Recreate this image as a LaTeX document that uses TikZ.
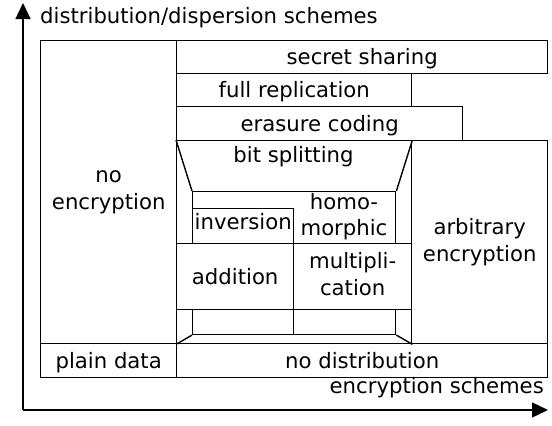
\documentclass[tikz,border=0pt]{standalone}
\usepackage{fontspec}
\setmainfont{DejaVu Sans}
\usepackage{tikz}
\usetikzlibrary{arrows.meta}
\newcommand\cellfont{\fontsize{21.2}{26.8}\selectfont}
\newcommand\linestrut{\rule[-0.236em]{0pt}{1.164em}}
\tikzset{
  cell/.style 2 args={draw, line width=1.4pt, inner sep=0pt, anchor=north west, align=center,
    minimum width=#1pt, minimum height=#2pt, font=\cellfont,
    execute at begin node=\linestrut, execute at end node=\linestrut},
  txt/.style={inner sep=0pt, align=center, font=\cellfont,
    execute at begin node=\linestrut, execute at end node=\linestrut},
  eixo/.style={line width=1.4pt, -{Triangle[length=16pt,width=15pt]}},
  canto/.style={line width=1.4pt},
}

\begin{document}
\begin{tikzpicture}[x=1pt, y=-1pt]
  \useasboundingbox (0,0) rectangle (552,426);
  % axes
  \coordinate (orig) at (23,410);
  \coordinate (ytop) at (23,3);
  \coordinate (xend) at (548,410);
  \draw[eixo] (orig) -- (ytop);
  \draw[eixo] (orig) -- (xend);
  \node[txt, anchor=base west] (ylbl) at (40,23) {distribution/dispersion schemes};
  \node[txt, anchor=base east] (xlbl) at (544,393) {encryption schemes};
  % cells
  \node[cell={136}{303}] (noenc) at (40,40) {no\\encryption};
  \node[cell={371}{33}] (secret) at (176,40) {secret sharing};
  \node[cell={235}{33}] (full) at (176,73) {full replication};
  \node[cell={286}{34}] (erasure) at (176,106) {erasure coding};
  \node[cell={235}{203}] (bits) at (176,140) {};
  \node[txt, anchor=base] (bitslbl) at (293.5,162) {bit splitting};
  \node[cell={136}{203}] (arb) at (411,140) {arbitrary\\encryption};
  \node[cell={136}{34}] (plain) at (40,343) {plain data};
  \node[cell={371}{34}] (nodist) at (176,343) {no distribution};
  % homomorphic core
  \node[cell={203}{52}] (homo) at (192,191) {};
  \node[txt] (homolbl) at (344,217) {homo-\\morphic};
  \node[cell={101}{35}, text depth=13pt] (inv) at (192,208) {inversion};
  \node[cell={117}{66}] (add) at (176,243) {addition};
  \node[cell={118}{66}] (mult) at (293,243) {multipli-\\cation};
  \node[cell={101}{18}] (lowL) at (192,309) {};
  \node[cell={102}{18}] (lowR) at (293,309) {};
  \draw[canto] (bits.north west) -- (homo.north west);
  \draw[canto] (bits.north east) -- (homo.north east);
  \draw[canto] (bits.south west) -- (lowL.south west);
  \draw[canto] (bits.south east) -- (lowR.south east);
\end{tikzpicture}
\end{document}
